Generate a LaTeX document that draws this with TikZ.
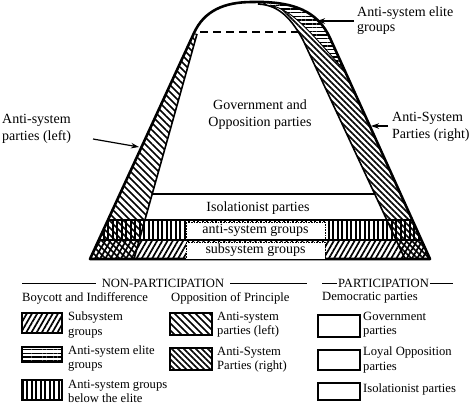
\documentclass[tikz,border=0pt]{standalone}
\usepackage{fontspec}
\setmainfont{Liberation Serif}
\usetikzlibrary{patterns.meta,arrows.meta}
\begin{document}
\begin{tikzpicture}[x=1pt,y=-1pt,
  lab/.style={font=\fontsize{14}{17}\selectfont, inner sep=0pt, align=left},
  leg/.style={font=\fontsize{12.6}{14.2}\selectfont, inner sep=0pt, align=left},
  arr/.style={line width=1.2pt, -{Stealth[length=8pt,width=5.5pt]}},
  leftP/.style={pattern={Lines[angle=-45,distance=4.95pt,line width=1.7pt]}},
  rightP/.style={pattern={Lines[angle=-45,distance=4.243pt,line width=1.5pt]}},
  subP/.style={pattern={Lines[angle=60,distance=4.5pt,line width=1.7pt]}},
  vertP/.style={pattern={Lines[angle=90,distance=4.5pt,line width=2pt]}},
  eliteP/.style={pattern={Lines[angle=0,distance=3.7pt,line width=1.4pt]}},
  legbox/.style={draw, line width=1.8pt},
  tbox/.style={lab, fill=white, draw, densely dotted, line width=0.6pt, minimum width=139pt, minimum height=17pt, align=center},
]
\useasboundingbox (0,0) rectangle (470,405);

% ---- hatched regions inside the outline
\begin{scope}
\clip (90,259) -- (194,33) .. controls (204,11) and (224,2) .. (252,2) .. controls (295,1) and (318,12) .. (330,38) -- (430,259) -- cycle;
\fill[vertP] (0,220) rectangle (470,240);
\fill[subP] (0,240) rectangle (470,262);
\fill[rightP] (258,4) .. controls (280,5) and (292,20) .. (303,40) -- (405,259) -- (470,259) -- (470,0) -- (258,0) -- cycle;
\fill[white] (270,5) .. controls (294,11) and (308,30) .. (346,72) -- (470,72) -- (470,0) -- (270,0) -- cycle;
\fill[eliteP] (270,5) .. controls (294,11) and (308,30) .. (346,72) -- (470,72) -- (470,0) -- (270,0) -- cycle;
\draw[line width=0.9pt] (270,5) .. controls (294,11) and (308,30) .. (346,72);
\draw[line width=2pt] (0,220) -- (470,220);
\draw[line width=1.8pt] (0,240) -- (470,240);
\end{scope}
\fill[leftP] (194,33) -- (90,259) -- (134,259) -- (197,34) -- cycle;

% ---- inner lines
\draw[line width=1.6pt] (197,34) -- (134,259);
\draw[line width=1.6pt] (258,4) .. controls (280,5) and (292,20) .. (303,40) -- (405,259);
\draw[line width=1.8pt] (152,194) -- (375,194);
\draw[line width=1.5pt, dash pattern=on 8pt off 5pt] (200,32) -- (298,32);

% ---- outline
\draw[line width=2.6pt, line join=round] (90,259) -- (194,33) .. controls (204,11) and (224,2) .. (252,2) .. controls (295,1) and (318,12) .. (330,38) -- (430,259) -- cycle;

% ---- labels inside
\node[lab, align=center] (gov) at (260,115) {Government and\\Opposition parties};
\node[lab] (iso) at (258,208) {Isolationist parties};
\node[tbox] (asg) at (255.5,230.5) {anti-system groups};
\node[tbox] (ssg) at (255.5,250.5) {subsystem groups};

% ---- outside labels and arrows
\node[lab, font=\fontsize{14}{15}\selectfont, anchor=west] (eliteL) at (357,20.5) {Anti-system elite\\groups};
\node[lab, anchor=west] (rightL) at (392,126.5) {Anti-System\\Parties (right)};
\node[lab, anchor=west] (leftL) at (2,128.5) {Anti-system\\parties (left)};
\coordinate (eliteTail) at (354,21);
\coordinate (eliteTip) at (317,21);
\coordinate (rightTail) at (388,126);
\coordinate (rightTip) at (371,126);
\coordinate (leftTail) at (93,139);
\coordinate (leftTip) at (139,147);
\draw[arr] (eliteTail) -- (eliteTip);
\draw[arr] (rightTail) -- (rightTip);
\draw[arr] (leftTail) -- (leftTip);

% ---- legend
\node[leg] (np) at (163,283) {NON-PARTICIPATION};
\draw[line width=1pt] (22,283) -- (96,283);
\draw[line width=1pt] (230,283) -- (307,283);
\node[leg] (pp) at (383.5,283) {PARTICIPATION};
\draw[line width=1pt] (322,283) -- (337,283);
\draw[line width=1pt] (430,283) -- (453,283);

\node[leg, anchor=west] (h1) at (22,298) {Boycott and Indifference};
\node[leg, anchor=west] (h2) at (171,298) {Opposition of Principle};
\node[leg, anchor=west] (h3) at (322,298) {Democratic parties};

\draw[legbox, subP] (22,313) rectangle (62,333);
\draw[legbox, eliteP] (22,347) rectangle (62,362);
\draw[legbox, vertP] (22,380) rectangle (62,400);
\draw[legbox, leftP] (170,313) rectangle (212,335);
\draw[legbox, rightP] (170,348) rectangle (212,370);
\draw[legbox] (318,315) rectangle (360,337);
\draw[legbox] (318,350) rectangle (360,370);
\draw[legbox] (318,383) rectangle (360,400);

\node[leg, anchor=west] (t11) at (68,325) {Subsystem\\groups};
\node[leg, anchor=west] (t12) at (68,358.5) {Anti-system elite\\groups};
\node[leg, anchor=west] (t13) at (68,391) {Anti-system groups\\below the elite};
\node[leg, anchor=west] (t21) at (217,325) {Anti-system\\parties (left)};
\node[leg, anchor=west] (t22) at (217,359.5) {Anti-System\\Parties (right)};
\node[leg, anchor=west] (t31) at (363,325) {Government\\parties};
\node[leg, anchor=west] (t32) at (363,360) {Loyal Opposition\\parties};
\node[leg, anchor=west] (t33) at (363,389) {Isolationist parties};
\end{tikzpicture}
\end{document}
